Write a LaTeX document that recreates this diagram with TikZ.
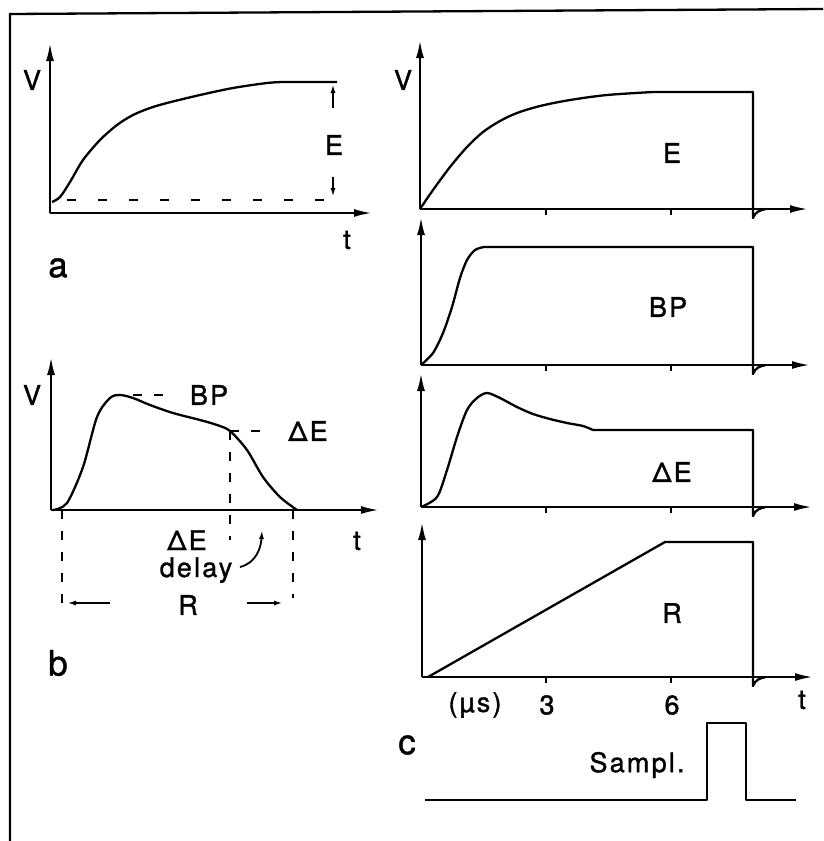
\documentclass[tikz,border=0pt]{standalone}
\usepackage{fontspec}
\setmainfont{TeX Gyre Heros}[LetterSpace=8, FakeBold=1.2]
\usetikzlibrary{arrows.meta,positioning}

\tikzset{
  curve/.style={line width=2.3pt, line join=round},
  axis/.style={line width=2.3pt, -{Latex[length=18pt,width=8pt]}},
  tick/.style={line width=2pt},
  dasheda/.style={line width=1.8pt, dash pattern=on 9pt off 22pt},
  dashedb/.style={line width=1.8pt, dash pattern=on 9pt off 12pt},
  smallarrow/.style={line width=1.8pt, -{Latex[length=9pt,width=5pt]}},
  lbl/.style={font=\fontsize{27}{31}\selectfont, inner sep=0pt},
  panel/.style={font=\fontsize{35}{40}\selectfont, inner sep=0pt},
}

\begin{document}
\begin{tikzpicture}[x=1pt,y=-1pt]
\useasboundingbox (0,0) rectangle (823,841);

% frame
\draw[line width=2.3pt] (10,841) -- (10,14) -- (823,9);

% ---- a ----
\coordinate (oa) at (50,213);
\draw[axis] (oa) -- (50,43);
\draw[axis] (oa) -- (372,213);
\draw[curve] plot[smooth] coordinates {(52,202) (60,197) (70,182) (83,160) (100,140)
  (117,125) (133,115) (150,108) (167,103) (200,95) (233,88) (267,83) (283,82)} -- (337,82);
\draw[dasheda] (67,200) -- (333,200);
\node[lbl] (Ea) at (334,145) {E};
\draw[smallarrow] (333,108) -- (333,84);
\draw[smallarrow] (333,177) -- (333,197);
\node[lbl] (Va) at (32,80) {V};
\node[lbl] (ta) at (347,240) {t};
\node[panel] (la) at (58,268) {a};

% ---- b ----
\coordinate (ob) at (51,510);
\coordinate (peak) at (120,395);
\coordinate (knee) at (230,431);
\draw[axis] (ob) -- (51,357);
\draw[axis] (ob) -- (379,510);
\draw[curve] plot[smooth] coordinates {(53,510) (67,503) (83,467) (97,417) (110,398)
  (peak) (133,398) (150,405) (173,413) (200,420) (217,425) (knee) (247,450)
  (263,477) (280,497) (297,510)};
\node[lbl] (BPb) at (209,395) {BP};
\node[lbl] (dEb) at (308,431) {ΔE};
\draw[dashedb] (133,395) -- (172,395);
\draw[dashedb] (knee) -- (270,431);
\draw[dashedb] (knee) -- (230,540);
\draw[dashedb] (62,510) -- (62,610);
\draw[dashedb] (293,510) -- (293,598);
\node[lbl] (Rb) at (188,605) {R};
\draw[smallarrow] (110,603) -- (67,603);
\draw[smallarrow] (247,603) -- (283,603);
\node[lbl, anchor=base] (dEdelay) at (187,550) {ΔE};
\node[lbl, anchor=base] (delay) at (196,577) {delay};
\draw[smallarrow] (240,567) .. controls (256,563) and (261,548) .. (262,530);
\node[lbl] (Vb) at (32,395) {V};
\node[lbl] (tb) at (357,541) {t};
\node[panel] (lb) at (58,663) {b};

% ---- c ----
\coordinate (oE) at (420,209);
\coordinate (oBP) at (421,365);
\coordinate (odE) at (421,507);
\coordinate (oR) at (422,677);

\draw[axis] (oE) -- (420,40);
\draw[axis] (oE) -- (808,209);
\draw[axis] (oBP) -- (421,217);
\draw[axis] (oBP) -- (810,365);
\draw[axis] (odE) -- (421,373);
\draw[axis] (odE) -- (812,507);
\draw[axis] (oR) -- (422,522);
\draw[axis] (oR) -- (813,677);
\foreach \y in {209,365,507,677} {
  \draw[tick] (546,\y) -- ++(0,6);
  \draw[tick] (671,\y) -- ++(0,6);
}

\draw[curve] plot[smooth] coordinates {(420,209) (433,190) (450,167) (467,147) (483,132)
  (500,121) (517,113) (540,106) (570,100) (607,95) (653,92)}
  -- (753,92) -- (753,218) .. controls (755,212) and (760,210) .. (766,209);
\node[lbl] (E) at (672,153) {E};

\draw[curve] plot[smooth, tension=0.5] coordinates {(421,365) (433,353) (443,333) (452,307)
  (460,278) (467,260) (475,250) (484,247)}
  -- (753,247) -- (753,374) .. controls (755,368) and (760,366) .. (766,365);
\node[lbl] (BP) at (668,307) {BP};

\draw[curve] plot[smooth] coordinates {(421,507) (437,497) (447,470) (457,437) (467,410)
  (477,398) (487,393) (500,398) (517,407) (533,414) (550,419) (567,423) (583,426) (593,430)}
  -- (753,430) -- (753,516) .. controls (755,510) and (760,508) .. (766,507);
\node[lbl] (dE) at (672,472) {ΔE};

\draw[curve] (428,677) -- (665,542) -- (753,542) -- (753,686)
  .. controls (755,680) and (760,678) .. (766,677);
\node[lbl] (R) at (672,613) {R};

\node[lbl] (Vc) at (403,80) {V};
\node[lbl] (unit) at (475,705) {(µs)};
\node[lbl] (three) at (547,705) {3};
\node[lbl] (six) at (672,705) {6};
\node[lbl] (tc) at (802,700) {t};
\node[panel] (lc) at (407,745) {c};

% sampling gate
\draw[curve] (425,800) -- (707,800) -- (707,723) -- (746,723) -- (746,800) -- (796,800);
\node[lbl] (sampl) at (637,765) {Sampl.};
\end{tikzpicture}
\end{document}
